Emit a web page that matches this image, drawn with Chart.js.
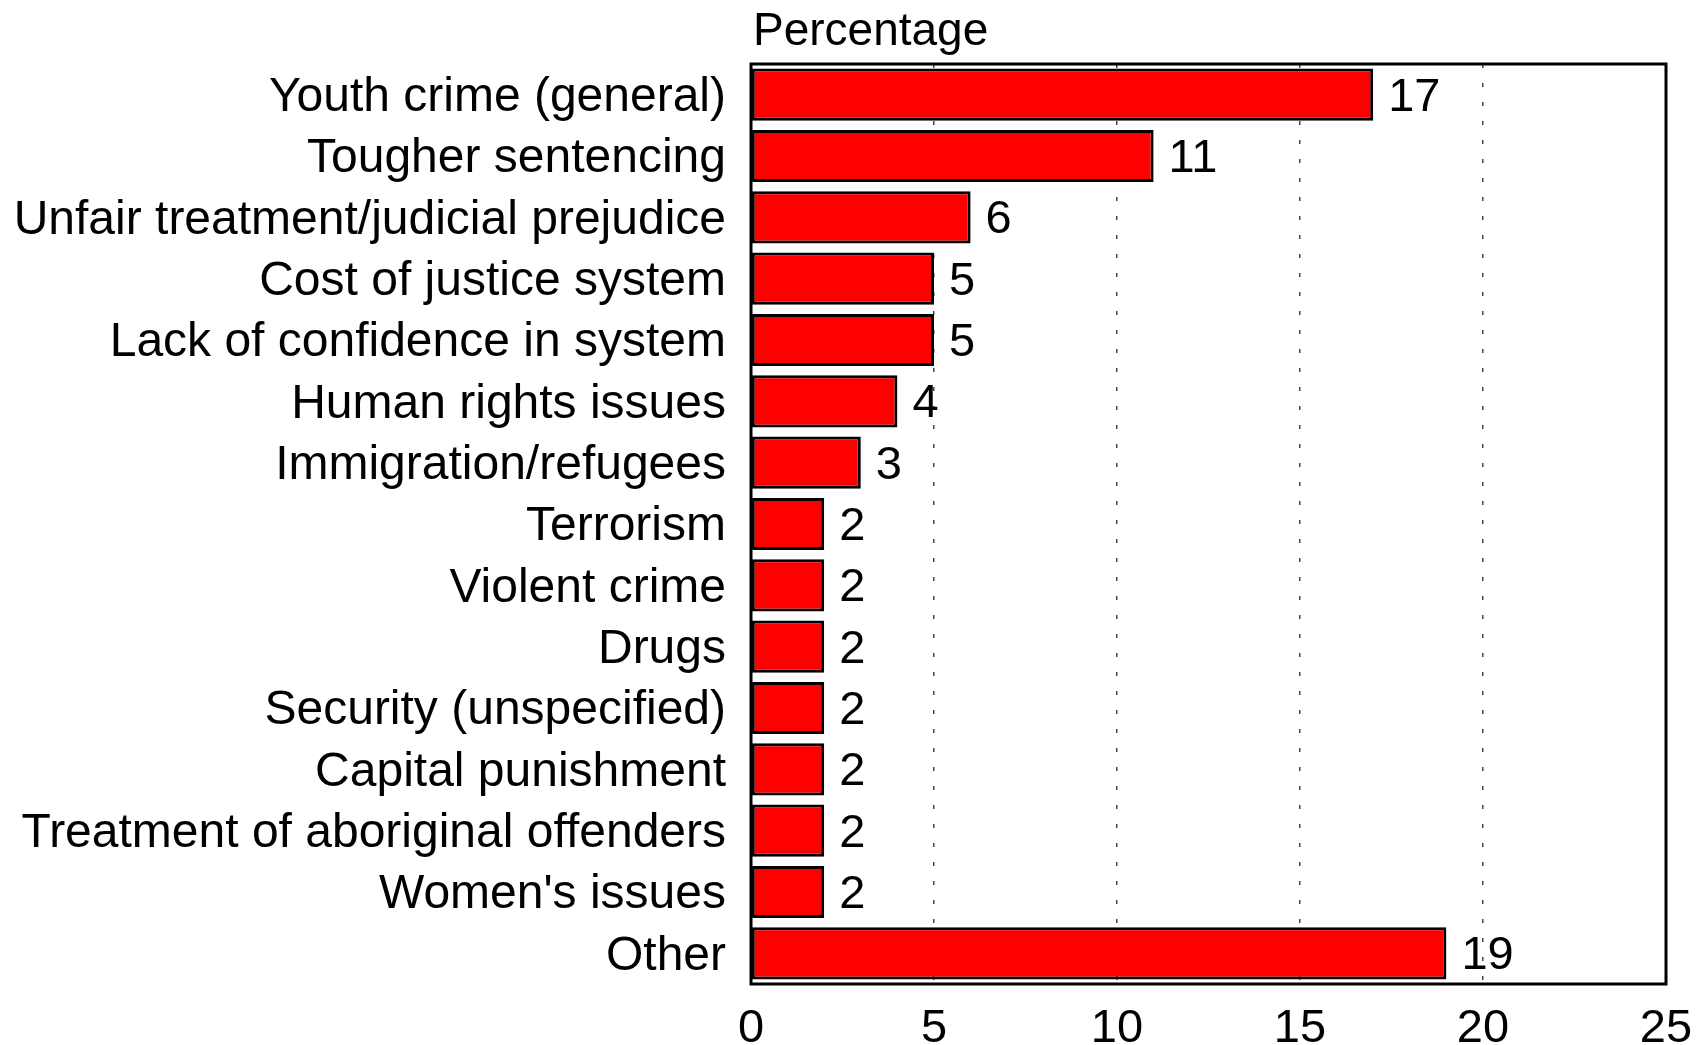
<!DOCTYPE html>
<html>
    <head>
        <meta charset="utf-8">
        <script src="https://cdn.jsdelivr.net/npm/chart.js@4.4.1/dist/chart.umd.min.js"></script>
        <style>
            body{margin:0;background:#fff;}
        </style>
    </head>
    <body>
        <div>
            <canvas id="myChart" width="1703" height="1045"></canvas>
        </div>
    </body>
    <script>
        // categories, top to bottom
        const categories=[
            'Youth crime (general)',
            'Tougher sentencing',
            'Unfair treatment/judicial prejudice',
            'Cost of justice system',
            'Lack of confidence in system',
            'Human rights issues',
            'Immigration/refugees',
            'Terrorism',
            'Violent crime',
            'Drugs',
            'Security (unspecified)',
            'Capital punishment',
            'Treatment of aboriginal offenders',
            "Women's issues",
            'Other'
        ];
        // percentage of respondents
        const percentages=[17,11,6,5,5,4,3,2,2,2,2,2,2,2,19];
        // x axis ticks
        const xTicks=[0,5,10,15,20,25];
        const axisTitle='Percentage';

        const FONT="'Liberation Sans', Arial, Helvetica, sans-serif";

        // value next to the end of each bar
        const valueLabels={
            id:'valueLabels',
            afterDatasetsDraw(chart){
                const ctx=chart.ctx;
                const meta=chart.getDatasetMeta(0);
                ctx.save();
                ctx.font='47px '+FONT;
                ctx.fillStyle='#000';
                ctx.textAlign='left';
                ctx.textBaseline='middle';
                meta.data.forEach((bar,i)=>{
                    ctx.fillText(String(percentages[i]),bar.x+15,bar.y+3);
                });
                ctx.restore();
            }
        };

        // black box round the plot + title above it
        const frame={
            id:'frame',
            afterDraw(chart){
                const ctx=chart.ctx;
                const a=chart.chartArea;
                ctx.save();
                ctx.strokeStyle='#000';
                ctx.lineWidth=3;
                ctx.strokeRect(a.left,a.top,a.right-a.left,a.bottom-a.top);
                ctx.font='46px '+FONT;
                ctx.fillStyle='#000';
                ctx.textAlign='left';
                ctx.textBaseline='alphabetic';
                ctx.fillText(axisTitle,a.left+2,45);
                ctx.restore();
            }
        };

        const data={
            labels:categories,
            datasets:[{
                data:percentages,
                backgroundColor:'#ff0000',
                borderColor:'#000',
                borderWidth:3,
                borderSkipped:false,
                barPercentage:0.85,
                categoryPercentage:1.0
            }]
        };

        const config={
            type:'bar',
            data:data,
            options:{
                indexAxis:'y',
                responsive:false,
                animation:false,
                layout:{padding:{top:64,right:37,left:0,bottom:0}},
                plugins:{
                    legend:{display:false},
                    tooltip:{enabled:false}
                },
                scales:{
                    x:{
                        min:xTicks[0],
                        max:xTicks[xTicks.length-1],
                        afterBuildTicks(scale){
                            scale.ticks=xTicks.map(v=>({value:v}));
                        },
                        afterFit(scale){
                            // fixed height, and no extra side padding for the end labels
                            scale.height=61;
                            scale.paddingLeft=0;
                            scale.paddingRight=0;
                        },
                        border:{display:false},
                        grid:{
                            drawTicks:false,
                            lineWidth:1.5,
                            color:(c)=>{
                                const v=c.tick?c.tick.value:null;
                                if(v===xTicks[0]||v===xTicks[xTicks.length-1]) return 'rgba(0,0,0,0)';
                                return '#444';
                            }
                        },
                        ticks:{
                            padding:17,
                            color:'#000',
                            font:{family:FONT,size:47},
                            maxRotation:0
                        }
                    },
                    y:{
                        afterFit(scale){
                            scale.width=751;
                        },
                        border:{display:false},
                        grid:{display:false,drawTicks:false},
                        ticks:{
                            padding:25,
                            labelOffset:3,
                            color:'#000',
                            font:{family:FONT,size:48},
                            autoSkip:false
                        }
                    }
                }
            },
            plugins:[valueLabels,frame]
        };

        // dashed vertical grid lines
        config.options.scales.x.border.dash=[4,15];
        config.options.scales.x.grid.borderDash=[4,15];

        const myChart=new Chart(document.getElementById('myChart'),config);
    </script>
</html>
